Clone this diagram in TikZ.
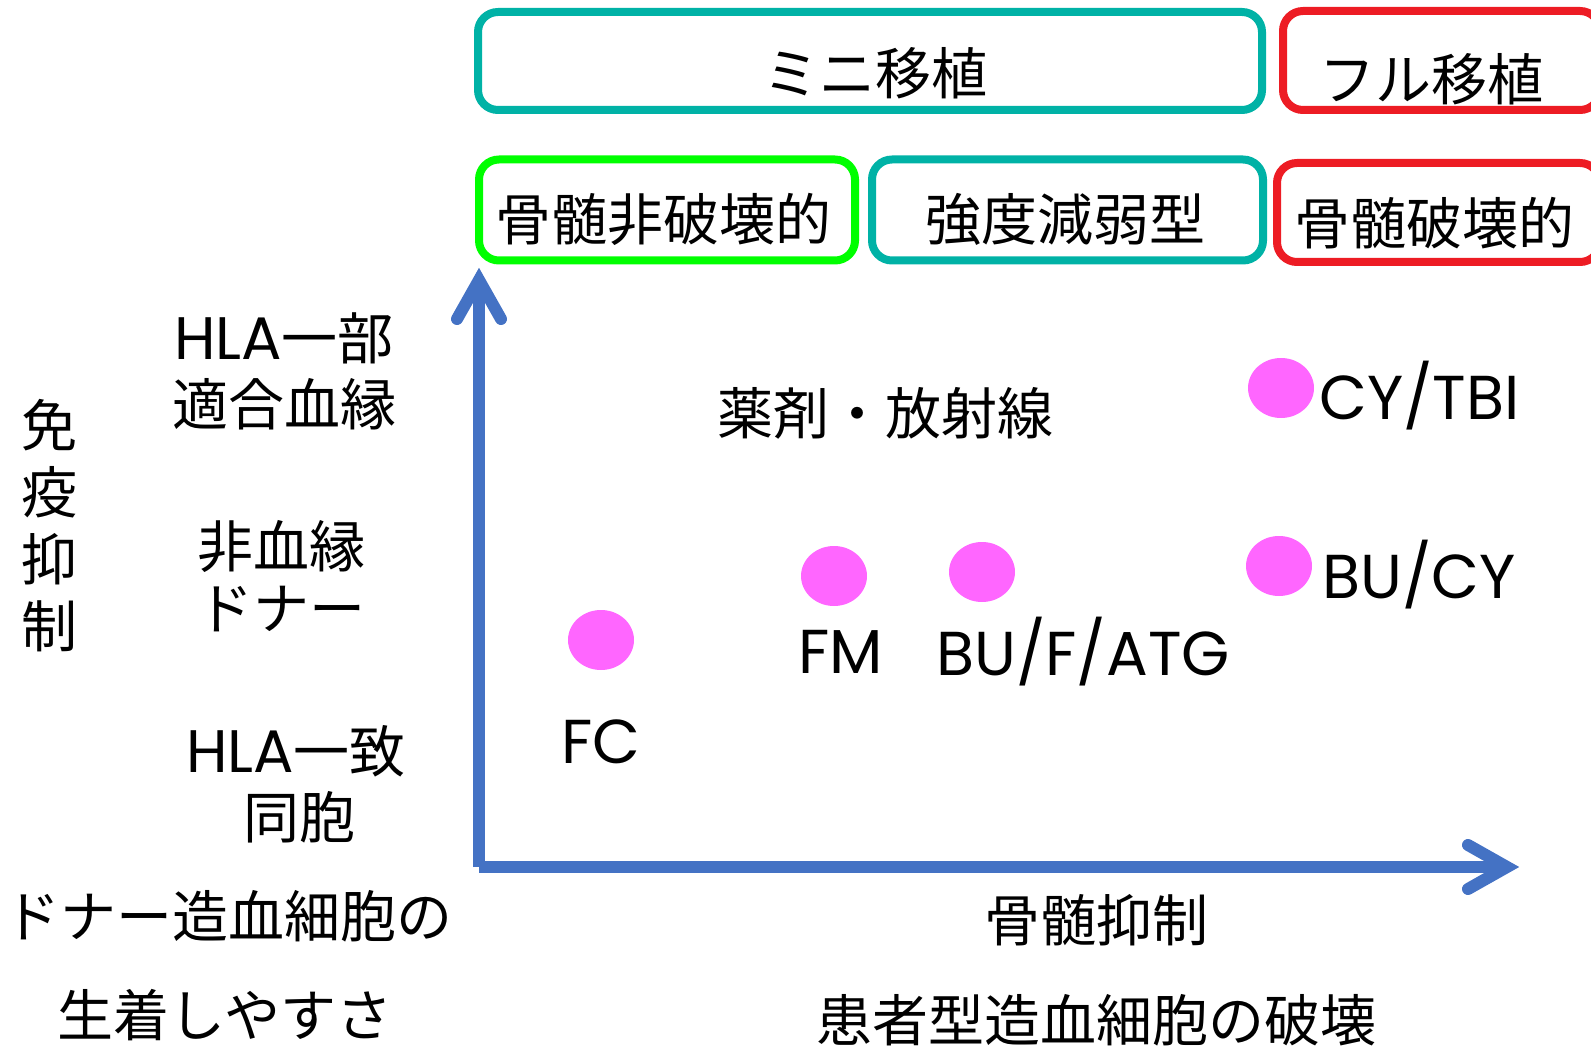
\documentclass[tikz,border=0pt]{standalone}
\usepackage{fontspec}
\newfontfamily\jp{Noto Sans CJK JP}
\newfontfamily\latf{Poppins}
\usetikzlibrary{shapes.geometric}
\definecolor{tealc}{RGB}{0,178,166}
\definecolor{redc}{RGB}{237,28,36}
\definecolor{greenc}{RGB}{0,255,0}
\definecolor{axisc}{RGB}{68,114,196}
\definecolor{dotc}{RGB}{255,102,255}
\newcommand{\hla}{{\latf\fontsize{30pt}{34pt}\selectfont HLA}}
\tikzset{
  txt/.style={font=\jp\fontsize{28pt}{34pt}\selectfont, inner sep=0pt},
  lat/.style={font=\latf\fontsize{31pt}{36pt}\selectfont, inner sep=0pt},
  frame/.style={draw=#1, line width=4pt, rounded corners=10pt, rectangle, inner sep=0pt},
  dot/.style={ellipse, fill=dotc, minimum width=33pt, minimum height=30pt, inner sep=0pt},
  axis/.style={draw=axisc, line width=6pt, line cap=butt},
  head/.style={draw=axisc, line width=6pt, line cap=round, line join=miter}
}
\begin{document}
\begin{tikzpicture}[x=0.5pt, y=-0.5pt]
\useasboundingbox (0,0) rectangle (1591,1048);
% boxes
\node[frame=tealc, minimum width=392pt, minimum height=49pt] (mini) at (870,61) {};
\node[frame=redc, minimum width=158.5pt, minimum height=49.5pt] (full) at (1441.5,60.5) {};
\node[frame=greenc, minimum width=188pt, minimum height=50.5pt] (hihakai) at (667,210) {};
\node[frame=tealc, minimum width=195.5pt, minimum height=50.5pt] (kyodo) at (1067.5,210) {};
\node[frame=redc, minimum width=161.5pt, minimum height=49.5pt] (hakai) at (1438.5,212.5) {};
\node[txt] (tmini) at (875,73) {ミニ移植};
\node[txt] (tfull) at (1431,79) {フル移植};
\node[txt] (thihakai) at (663,219) {骨髄非破壊的};
\node[txt] (tkyodo) at (1065,219) {強度減弱型};
\node[txt] (thakai) at (1434,223) {骨髄破壊的};
% left labels
\node[txt] (hla1) at (284,338) {\hla 一部};
\node[txt] (hla1b) at (284,404) {適合血縁};
\node[txt, align=center, font=\jp\fontsize{28pt}{33.5pt}\selectfont] (meneki) at (49,526) {免\\疫\\抑\\制};
\node[txt] (hiketsu) at (281,546) {非血縁};
\node[txt] (hiketsub) at (281,609) {ドナー};
\node[txt] (hla2) at (296,751) {\hla 一致};
\node[txt] (hla2b) at (299,817) {同胞};
\node[txt] (donor) at (228,916) {ドナー造血細胞の};
\node[txt] (seichaku) at (225,1015) {生着しやすさ};
% axes
\coordinate (O) at (479,867);
\coordinate (ytip) at (479,280);
\coordinate (xtip) at (1507,867);
\draw[axis] (O) -- (ytip);
\draw[axis] (O) -- (xtip);
\draw[head] ([shift={(-22,39)}]ytip) -- (ytip) -- ([shift={(22,39)}]ytip);
\draw[head] ([shift={(-39,-22)}]xtip) -- (xtip) -- ([shift={(-39,22)}]xtip);
\node[txt] (yaku) at (885,413) {薬剤・放射線};
\node[txt] (kotsu) at (1096,920) {骨髄抑制};
\node[txt] (kanja) at (1096,1020) {患者型造血細胞の破壊};
% dots
\node[dot] (dcy) at (1281,388) {};
\node[dot] (dbu) at (1279,566) {};
\node[dot] (dfm) at (834,576) {};
\node[dot] (datg) at (982,572) {};
\node[dot] (dfc) at (601,640) {};
\node[lat, anchor=west] (lcy) at (1319,396) {CY/TBI};
\node[lat, anchor=west] (lbu) at (1322,575) {BU/CY};
\node[lat] (lfm) at (841,652) {FM};
\node[lat] (latg) at (1083,652) {BU/F/ATG};
\node[lat] (lfc) at (601,742) {FC};
\end{tikzpicture}
\end{document}
